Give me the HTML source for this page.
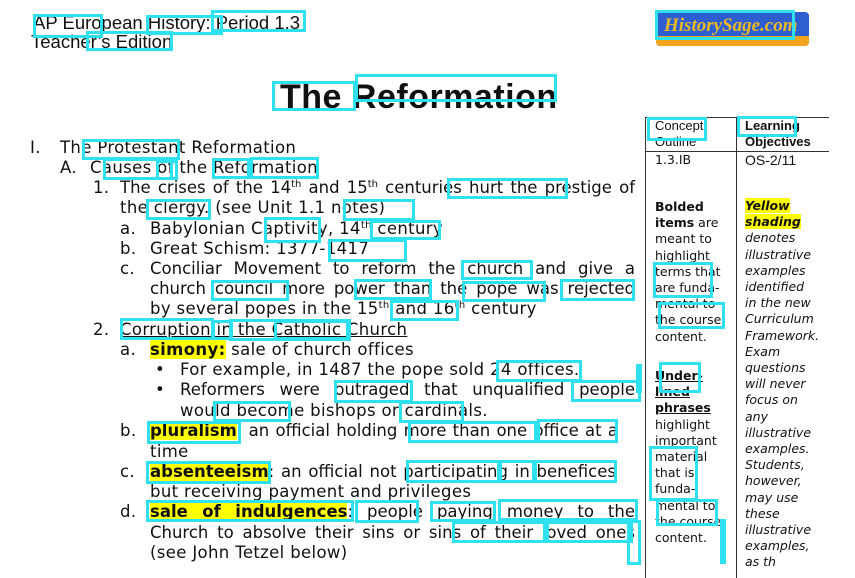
<!DOCTYPE html>
<html><head><meta charset="utf-8">
<style>
html,body{margin:0;padding:0;background:#fff;}
body{width:855px;height:559px;position:relative;overflow:hidden;font-family:"DejaVu Sans","Liberation Sans",sans-serif;color:#111;}
.l{position:absolute;font-size:16.5px;line-height:20px;white-space:nowrap;letter-spacing:0.35px;}
.j{white-space:normal;text-align:justify;text-align-last:justify;height:20px;overflow:visible;letter-spacing:0;}
.hl{background:#ffff00;font-weight:bold;}
sup{font-size:10px;line-height:0;vertical-align:6px;}
.box{position:absolute;border:3px solid #2fe0ee;box-sizing:border-box;}
.t{position:absolute;font-size:12.5px;line-height:16.2px;}
.hdr{position:absolute;font-family:"Liberation Sans",sans-serif;font-size:18.5px;line-height:20px;}
</style></head><body>
<div class="hdr" style="left:33px;top:13px;">AP European History: Period 1.3</div>
<div class="hdr" style="left:31px;top:32px;">Teacher’s Edition</div>

<div style="position:absolute;left:656px;top:12px;width:153px;height:34px;border-radius:4px;overflow:hidden;background:#2e5fd0;">
<div style="position:absolute;left:0;right:0;bottom:0;height:10px;background:#f4a31e;"></div>
<div style="position:absolute;left:8px;top:3px;font-family:'Liberation Serif',serif;font-style:italic;font-weight:bold;font-size:19px;color:#e8b828;">HistorySage.com</div>
</div>

<div style="position:absolute;left:280px;top:76px;font-family:'Liberation Sans',sans-serif;font-weight:bold;font-size:34px;line-height:42px;letter-spacing:0.5px;">The Reformation</div>

<!-- outline -->
<div class="l" style="left:30px;top:138px;">I.</div>
<div class="l" style="left:60px;top:138px;">The Protestant Reformation</div>
<div class="l" style="left:60px;top:158px;">A.</div>
<div class="l" style="left:90px;top:158px;">Causes of the Reformation</div>
<div class="l" style="left:93px;top:178px;">1.</div>
<div class="l j" style="left:120px;top:178px;width:515px;">The crises of the 14<sup>th</sup> and 15<sup>th</sup> centuries hurt the prestige of</div>
<div class="l" style="left:120px;top:198px;">the clergy. (see Unit 1.1 notes)</div>
<div class="l" style="left:120px;top:219px;">a.</div>
<div class="l" style="left:150px;top:219px;">Babylonian Captivity, 14<sup>th</sup> century</div>
<div class="l" style="left:120px;top:239px;">b.</div>
<div class="l" style="left:150px;top:239px;">Great Schism: 1377-1417</div>
<div class="l" style="left:120px;top:259px;">c.</div>
<div class="l j" style="left:150px;top:259px;width:485px;">Conciliar Movement to reform the church and give a</div>
<div class="l j" style="left:150px;top:279px;width:485px;">church council more power than the pope was rejected</div>
<div class="l" style="left:150px;top:299px;">by several popes in the 15<sup>th</sup> and 16<sup>th</sup> century</div>
<div class="l" style="left:93px;top:320px;">2.</div>
<div class="l" style="left:120px;top:320px;text-decoration:underline;">Corruption in the Catholic Church</div>
<div class="l" style="left:120px;top:340px;">a.</div>
<div class="l" style="left:150px;top:340px;"><span class="hl">simony:</span> sale of church offices</div>
<div class="l" style="left:155px;top:360px;">•</div>
<div class="l" style="left:180px;top:360px;">For example, in 1487 the pope sold 24 offices.</div>
<div class="l" style="left:155px;top:380px;">•</div>
<div class="l j" style="left:180px;top:380px;width:455px;">Reformers were outraged that unqualified people</div>
<div class="l" style="left:180px;top:401px;">would become bishops or cardinals.</div>
<div class="l" style="left:120px;top:421px;">b.</div>
<div class="l j" style="left:150px;top:421px;width:468px;"><span class="hl">pluralism</span>: an official holding more than one office at a</div>
<div class="l" style="left:150px;top:442px;">time</div>
<div class="l" style="left:120px;top:462px;">c.</div>
<div class="l j" style="left:150px;top:462px;width:466px;"><span class="hl">absenteeism</span>: an official not participating in benefices</div>
<div class="l" style="left:150px;top:482px;">but receiving payment and privileges</div>
<div class="l" style="left:120px;top:502px;">d.</div>
<div class="l j" style="left:150px;top:502px;width:485px;"><span class="hl">sale of indulgences</span>: people paying money to the</div>
<div class="l j" style="left:150px;top:523px;width:485px;">Church to absolve their sins or sins of their loved ones</div>
<div class="l" style="left:150px;top:543px;">(see John Tetzel below)</div>

<!-- side table -->
<div style="position:absolute;left:645px;top:117px;width:183px;height:460px;border-left:1px solid #333;border-top:1px solid #333;">
<div style="position:absolute;left:90px;top:0;bottom:0;border-left:1px solid #333;"></div>
<div style="position:absolute;left:0;right:0;top:33px;border-top:1px solid #333;"></div>
</div>
<div class="t" style="left:655px;top:118px;font-family:'Liberation Sans',sans-serif;font-size:13px;">Concept<br>Outline</div>
<div class="t" style="left:745px;top:118px;font-weight:bold;font-family:'Liberation Sans',sans-serif;font-size:13px;">Learning<br>Objectives</div>
<div class="t" style="left:655px;top:152px;">1.3.IB</div>
<div class="t" style="left:745px;top:152px;font-family:'Liberation Sans',sans-serif;font-size:14px;">OS-2/11</div>
<div class="t" style="left:655px;top:199px;"><b>Bolded<br>items</b> are<br>meant to<br>highlight<br>terms that<br>are funda-<br>mental to<br>the course<br>content.</div>
<div class="t" style="left:655px;top:368px;"><b><u>Under-<br>lined<br>phrases</u></b><br>highlight<br>important<br>material<br>that is<br>funda-<br>mental to<br>the course<br>content.</div>
<div class="t" style="left:745px;top:198px;font-style:italic;"><b style="background:#ffff00;">Yellow<br>shading</b><br>denotes<br>illustrative<br>examples<br>identified<br>in the new<br>Curriculum<br>Framework.<br>Exam<br>questions<br>will never<br>focus on<br>any<br>illustrative<br>examples.<br>Students,<br>however,<br>may use<br>these<br>illustrative<br>examples,<br>as th</div>

<!-- annotation boxes -->
<div class="box" style="left:33px;top:14px;width:70px;height:24px;"></div>
<div class="box" style="left:146px;top:15px;width:77px;height:20px;"></div>
<div class="box" style="left:211px;top:10px;width:95px;height:22px;"></div>
<div class="box" style="left:86px;top:31px;width:87px;height:20px;"></div>
<div class="box" style="left:655px;top:10px;width:140px;height:30px;"></div>
<div class="box" style="left:272px;top:81px;width:84px;height:30px;"></div>
<div class="box" style="left:355px;top:74px;width:202px;height:28px;"></div>
<div class="box" style="left:647px;top:117px;width:60px;height:24px;"></div>
<div class="box" style="left:737px;top:116px;width:60px;height:21px;"></div>
<div class="box" style="left:82px;top:139px;width:98px;height:21px;"></div>
<div class="box" style="left:103px;top:158px;width:70px;height:22px;"></div>
<div class="box" style="left:156px;top:160px;width:22px;height:20px;"></div>
<div class="box" style="left:212px;top:158px;width:38px;height:21px;"></div>
<div class="box" style="left:250px;top:157px;width:69px;height:22px;"></div>
<div class="box" style="left:447px;top:178px;width:121px;height:21px;"></div>
<div class="box" style="left:146px;top:199px;width:65px;height:21px;"></div>
<div class="box" style="left:343px;top:199px;width:72px;height:22px;"></div>
<div class="box" style="left:264px;top:217px;width:57px;height:26px;"></div>
<div class="box" style="left:370px;top:220px;width:71px;height:20px;"></div>
<div class="box" style="left:328px;top:239px;width:79px;height:23px;"></div>
<div class="box" style="left:461px;top:260px;width:72px;height:20px;"></div>
<div class="box" style="left:211px;top:280px;width:78px;height:21px;"></div>
<div class="box" style="left:354px;top:279px;width:78px;height:21px;"></div>
<div class="box" style="left:462px;top:281px;width:84px;height:21px;"></div>
<div class="box" style="left:560px;top:279px;width:75px;height:22px;"></div>
<div class="box" style="left:390px;top:300px;width:69px;height:21px;"></div>
<div class="box" style="left:120px;top:318px;width:94px;height:22px;"></div>
<div class="box" style="left:212px;top:320px;width:21px;height:20px;"></div>
<div class="box" style="left:229px;top:319px;width:122px;height:22px;"></div>
<div class="box" style="left:274px;top:320px;width:75px;height:20px;"></div>
<div class="box" style="left:496px;top:360px;width:86px;height:22px;"></div>
<div class="box" style="left:334px;top:380px;width:79px;height:23px;"></div>
<div class="box" style="left:571px;top:380px;width:70px;height:22px;"></div>
<div class="box" style="left:213px;top:401px;width:78px;height:21px;"></div>
<div class="box" style="left:399px;top:401px;width:65px;height:22px;"></div>
<div class="box" style="left:408px;top:421px;width:129px;height:22px;"></div>
<div class="box" style="left:537px;top:419px;width:81px;height:24px;"></div>
<div class="box" style="left:147px;top:421px;width:94px;height:23px;"></div>
<div class="box" style="left:146px;top:461px;width:125px;height:23px;"></div>
<div class="box" style="left:406px;top:460px;width:94px;height:23px;"></div>
<div class="box" style="left:499px;top:460px;width:36px;height:23px;"></div>
<div class="box" style="left:534px;top:460px;width:83px;height:23px;"></div>
<div class="box" style="left:146px;top:500px;width:208px;height:22px;"></div>
<div class="box" style="left:355px;top:500px;width:64px;height:23px;"></div>
<div class="box" style="left:430px;top:501px;width:66px;height:21px;"></div>
<div class="box" style="left:498px;top:499px;width:140px;height:22px;"></div>
<div class="box" style="left:452px;top:521px;width:94px;height:22px;"></div>
<div class="box" style="left:546px;top:521px;width:87px;height:22px;"></div>
<div class="box" style="left:627px;top:520px;width:14px;height:45px;"></div>
<div class="box" style="left:653px;top:262px;width:60px;height:36px;"></div>
<div class="box" style="left:658px;top:302px;width:67px;height:27px;"></div>
<div class="box" style="left:659px;top:362px;width:42px;height:31px;"></div>
<div class="box" style="left:636px;top:364px;width:5px;height:29px;"></div>
<div class="box" style="left:649px;top:446px;width:49px;height:55px;"></div>
<div class="box" style="left:656px;top:499px;width:62px;height:27px;"></div>
<div class="box" style="left:720px;top:519px;width:6px;height:45px;"></div>
</body></html>
